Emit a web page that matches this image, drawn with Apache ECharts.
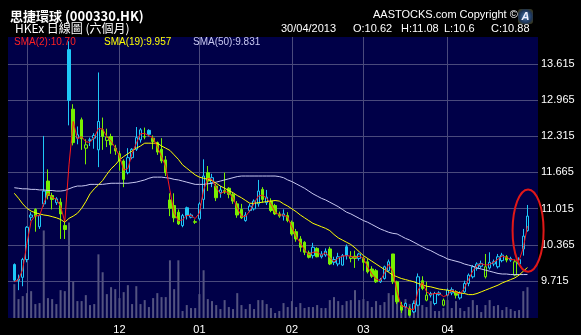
<!DOCTYPE html>
<html><head><meta charset="utf-8">
<script src="https://cdn.jsdelivr.net/npm/echarts@6/dist/echarts.min.js"></script>
<style>html,body{margin:0;padding:0;background:#000;}#c{width:581px;height:335px;}</style>
</head><body><div id="c"></div>
<script>
const dates = [
'2012/10/29','2012/10/30','2012/10/31',
'2012/11/01','2012/11/02','2012/11/05','2012/11/06','2012/11/07','2012/11/08','2012/11/09','2012/11/12','2012/11/13','2012/11/14','2012/11/15','2012/11/16','2012/11/19','2012/11/20','2012/11/21','2012/11/22','2012/11/23','2012/11/26','2012/11/27','2012/11/28','2012/11/29','2012/11/30',
'2012/12/03','2012/12/04','2012/12/05','2012/12/06','2012/12/07','2012/12/10','2012/12/11','2012/12/12','2012/12/13','2012/12/14','2012/12/17','2012/12/18','2012/12/19','2012/12/20','2012/12/21','2012/12/24','2012/12/27','2012/12/28','2012/12/31',
'2013/01/02','2013/01/03','2013/01/04','2013/01/07','2013/01/08','2013/01/09','2013/01/10','2013/01/11','2013/01/14','2013/01/15','2013/01/16','2013/01/17','2013/01/18','2013/01/21','2013/01/22','2013/01/23','2013/01/24','2013/01/25','2013/01/28','2013/01/29','2013/01/30','2013/01/31',
'2013/02/01','2013/02/04','2013/02/05','2013/02/06','2013/02/07','2013/02/08','2013/02/14','2013/02/15','2013/02/18','2013/02/19','2013/02/20','2013/02/21','2013/02/22','2013/02/25','2013/02/26','2013/02/27','2013/02/28',
'2013/03/01','2013/03/04','2013/03/05','2013/03/06','2013/03/07','2013/03/08','2013/03/11','2013/03/12','2013/03/13','2013/03/14','2013/03/15','2013/03/18','2013/03/19','2013/03/20','2013/03/21','2013/03/22','2013/03/25','2013/03/26','2013/03/27','2013/03/28',
'2013/04/02','2013/04/03','2013/04/05','2013/04/08','2013/04/09','2013/04/10','2013/04/11','2013/04/12','2013/04/15','2013/04/16','2013/04/17','2013/04/18','2013/04/19','2013/04/22','2013/04/23','2013/04/24','2013/04/25','2013/04/26','2013/04/29','2013/04/30'
];
const prevClose = 9.67;
const opens = [10.01,9.72,9.78,10.10,10.86,11.00,10.69,11.10,11.51,11.25,11.12,11.13,10.71,13.87,12.80,12.28,12.61,12.10,12.24,12.28,12.07,12.43,12.24,12.31,12.10,12.00,11.87,11.66,11.93,12.08,12.25,12.31,12.42,12.28,12.20,12.08,11.89,11.17,11.07,10.95,10.71,11.03,10.86,10.78,10.83,11.18,11.66,11.48,11.42,11.30,11.34,11.38,11.27,11.10,11.00,10.80,10.98,11.01,11.10,11.36,11.12,11.15,11.07,10.92,10.88,10.89,10.77,10.60,10.47,10.41,10.22,10.17,10.30,10.15,10.18,10.29,10.05,10.02,10.00,10.33,10.12,10.16,10.12,10.12,10.06,9.93,9.90,9.70,9.76,9.90,10.20,9.70,9.28,9.25,9.22,9.16,9.28,9.72,9.37,9.46,9.31,9.47,9.28,9.46,9.50,9.52,9.41,9.52,9.67,9.79,9.94,9.98,9.79,9.95,10.02,9.97,10.08,10.15,10.09,9.82,10.02,10.29,10.62];
const closes = [9.73,9.75,10.10,10.68,10.90,10.88,10.89,11.33,11.25,11.18,11.19,10.92,10.64,12.96,12.20,12.34,12.27,12.16,12.25,12.33,12.58,12.31,12.30,12.16,12.05,11.87,11.54,11.93,12.08,12.29,12.43,12.30,12.35,12.22,12.03,11.87,11.66,11.02,10.85,10.74,10.89,10.89,10.90,10.77,11.10,11.60,11.51,11.57,11.21,11.35,11.31,11.27,11.15,10.90,10.85,10.90,11.06,11.15,11.33,11.18,11.22,10.98,10.92,10.88,10.92,10.80,10.56,10.47,10.32,10.23,10.14,10.32,10.15,10.20,10.25,10.02,10.10,10.15,10.17,10.17,10.15,10.12,10.20,10.05,9.88,9.80,9.70,9.74,9.97,10.06,9.70,9.34,9.19,9.31,9.10,9.31,9.79,9.58,9.46,9.49,9.49,9.50,9.37,9.55,9.56,9.46,9.50,9.67,9.82,9.97,10.02,10.03,9.97,10.05,10.06,10.15,10.18,10.09,10.12,10.06,10.10,10.52,10.88];
const lows = [9.70,9.55,9.62,10.05,10.80,10.60,10.65,11.05,11.18,11.00,11.08,10.47,10.47,12.51,12.15,12.17,12.07,11.81,12.14,12.09,11.76,12.07,12.12,12.00,11.98,11.70,11.40,11.63,11.90,12.05,12.20,12.26,12.31,12.08,11.98,11.83,11.60,10.88,10.77,10.72,10.68,10.82,10.84,10.74,10.80,11.01,11.33,11.40,11.15,11.21,11.28,11.20,11.10,10.85,10.83,10.78,10.95,10.98,11.05,11.12,11.08,10.95,10.90,10.85,10.80,10.77,10.53,10.42,10.24,10.18,10.12,10.12,10.14,10.12,10.15,10.00,10.00,9.98,9.99,10.10,10.05,9.95,10.08,9.90,9.85,9.77,9.68,9.68,9.74,9.88,9.66,9.30,9.14,9.23,9.08,9.14,9.26,9.55,9.35,9.42,9.28,9.45,9.26,9.44,9.46,9.40,9.38,9.50,9.62,9.76,9.90,9.95,9.76,9.92,9.98,9.94,10.05,10.05,10.06,9.80,10.00,10.17,10.60];
const highs = [10.03,9.83,10.13,10.70,10.95,11.02,10.92,12.32,11.72,11.30,11.22,11.20,10.82,14.02,12.89,12.49,12.65,12.26,12.29,12.37,13.46,12.65,12.45,12.36,12.16,12.05,11.90,12.10,12.10,12.48,12.46,12.47,12.44,12.33,12.22,12.28,11.96,11.29,11.29,11.00,10.92,11.05,10.93,10.82,11.13,11.90,11.78,11.64,11.46,11.42,11.66,11.40,11.30,11.15,11.10,10.95,11.10,11.18,11.53,11.40,11.35,11.20,11.10,10.96,11.00,10.95,10.80,10.65,10.52,10.43,10.26,10.40,10.32,10.25,10.30,10.33,10.15,10.22,10.20,10.37,10.25,10.26,10.22,10.15,10.12,9.98,9.93,9.77,9.99,10.10,10.20,9.72,9.34,9.33,9.26,9.35,9.85,9.80,9.70,9.52,9.52,9.53,9.40,9.58,9.60,9.55,9.53,9.72,9.85,10.00,10.05,10.08,10.20,10.23,10.10,10.20,10.22,10.18,10.15,10.10,10.14,10.65,11.08];
const volumes = [34,19,22,25,27,14,15,88,20,19,14,28,27,96,37,17,17,23,13,14,64,46,24,31,29,20,26,33,14,32,14,18,11,20,25,21,21,58,29,58,7,13,10,10,24,48,19,17,13,9,18,11,9,25,13,9,14,9,18,18,14,10,5,7,15,11,17,11,15,10,11,11,13,10,10,18,21,17,13,17,18,28,18,19,17,11,17,13,16,25,23,18,13,19,14,18,23,13,11,17,7,7,10,18,10,17,10,7,11,18,13,6,13,18,12,13,8,11,9,7,8,27,31];
const sma2 = [9.70,9.74,9.925,10.39,10.79,10.89,10.885,11.11,11.29,11.215,11.185,11.055,10.78,11.80,12.58,12.27,12.305,12.215,12.205,12.29,12.455,12.445,12.305,12.23,12.105,11.96,11.705,11.735,12.005,12.185,12.36,12.365,12.325,12.285,12.125,11.95,11.765,11.34,10.935,10.795,10.815,10.89,10.895,10.835,10.935,11.35,11.555,11.54,11.39,11.28,11.33,11.29,11.21,11.025,10.875,10.875,10.98,11.105,11.24,11.255,11.20,11.10,10.95,10.90,10.90,10.86,10.68,10.515,10.395,10.275,10.185,10.23,10.235,10.175,10.225,10.135,10.06,10.125,10.16,10.17,10.16,10.135,10.16,10.125,9.965,9.84,9.75,9.72,9.855,10.015,9.88,9.52,9.265,9.25,9.205,9.205,9.55,9.685,9.52,9.475,9.49,9.495,9.435,9.46,9.555,9.51,9.48,9.585,9.745,9.895,9.995,10.025,10.00,10.01,10.055,10.105,10.165,10.135,10.105,10.09,10.08,10.31,10.70];
const sma19 = [11.29,11.20,11.10,11.02,10.97,10.94,10.92,10.90,10.89,10.87,10.85,10.82,10.77,10.84,10.88,10.93,11.02,11.14,11.28,11.37,11.44,11.52,11.63,11.73,11.80,11.89,11.95,12.00,12.05,12.10,12.14,12.19,12.19,12.19,12.19,12.14,12.10,12.06,11.98,11.90,11.80,11.74,11.68,11.62,11.58,11.56,11.54,11.52,11.47,11.42,11.38,11.34,11.30,11.25,11.21,11.16,11.11,11.11,11.12,11.13,11.14,11.15,11.16,11.15,11.10,11.06,11.01,10.96,10.90,10.85,10.80,10.75,10.72,10.69,10.66,10.62,10.55,10.49,10.45,10.41,10.37,10.31,10.24,10.17,10.12,10.07,10.02,9.97,9.92,9.87,9.82,9.79,9.76,9.74,9.72,9.70,9.67,9.65,9.62,9.61,9.59,9.57,9.56,9.55,9.53,9.52,9.50,9.49,9.47,9.47,9.49,9.52,9.55,9.58,9.61,9.64,9.68,9.71,9.74,9.77,9.82,9.89,9.957];
const sma50 = [11.39,11.38,11.37,11.37,11.36,11.36,11.35,11.35,11.34,11.34,11.33,11.33,11.34,11.37,11.40,11.42,11.42,11.43,11.45,11.45,11.45,11.45,11.46,11.47,11.47,11.47,11.47,11.47,11.48,11.49,11.51,11.53,11.56,11.58,11.58,11.58,11.57,11.56,11.54,11.53,11.51,11.49,11.47,11.45,11.45,11.45,11.46,11.47,11.49,11.51,11.53,11.55,11.57,11.59,11.60,11.60,11.60,11.60,11.60,11.60,11.60,11.60,11.60,11.59,11.57,11.53,11.50,11.46,11.42,11.38,11.33,11.28,11.24,11.20,11.17,11.13,11.09,11.05,11.00,10.95,10.92,10.88,10.84,10.80,10.77,10.73,10.69,10.65,10.62,10.59,10.57,10.56,10.52,10.48,10.45,10.41,10.37,10.33,10.29,10.26,10.22,10.18,10.15,10.11,10.09,10.07,10.05,10.02,10.00,9.98,9.95,9.93,9.91,9.89,9.87,9.85,9.84,9.84,9.83,9.83,9.83,9.83,9.831];
const yTicks = [9.715,10.365,11.015,11.665,12.315,12.965,13.615];
const gridDates = ['2012/11/01','2012/12/03','2013/01/02','2013/02/01','2013/03/01','2013/04/02'];
const gridLabels = ['','12','01','02','03','04'];

const BG = '#000048', GRID = '#4a4a7c', UP = '#1ec8f8', DN = '#78f000', VOL = '#535380';
const cats = [''].concat(dates, ['', '']);
const pad = a => ['-'].concat(a, ['-', '-']);
const idxOf = d => dates.indexOf(d) + 1;
const gridIdx = gridDates.map(idxOf);
const labelIdx = gridIdx.filter((v, k) => gridLabels[k] !== '');
const labelMap = {}; gridIdx.forEach((v, k) => labelMap[v] = gridLabels[k]);

const candles = dates.map((d, i) => {
  const o = opens[i], c = closes[i], prev = i ? closes[i - 1] : prevClose;
  const col = c >= prev ? UP : DN;
  const fill = c >= o ? BG : col;
  return {value: [o, c, lows[i], highs[i]], itemStyle: {color: fill, color0: fill, borderColor: col, borderColor0: col, borderColorDoji: col, borderWidth: 1}};
});
const n = dates.length;
const F = '"Liberation Sans", Arial, sans-serif';

const chart = echarts.init(document.getElementById('c'), null, {renderer: 'canvas'});
const option = {
  backgroundColor: '#000',
  animation: false,
  grid: {left: 8, top: 37, width: 530, height: 282.5, show: true, backgroundColor: BG, borderWidth: 0},
  xAxis: [
    {type: 'category', data: cats, boundaryGap: true, show: false},
    {type: 'value', min: -0.5, max: cats.length - 0.5, position: 'bottom',
     axisLine: {show: false}, axisTick: {show: false, customValues: gridIdx},
     splitLine: {show: true, lineStyle: {color: GRID, width: 1}},
     axisLabel: {customValues: labelIdx, formatter: v => labelMap[v] || '', color: '#fff', fontSize: 11, margin: 6, fontFamily: F}}
  ],
  yAxis: [
    {type: 'value', min: 9.05, max: 14.097, position: 'right',
     axisLine: {show: false}, axisTick: {show: false, customValues: yTicks},
     splitLine: {show: true, lineStyle: {color: GRID, width: 1}},
     axisLabel: {customValues: yTicks, formatter: v => v.toFixed(3), color: '#fff', fontSize: 11, margin: 3, fontFamily: F}},
    {type: 'value', min: 0, max: 282.5, show: false}
  ],
  series: [
    {type: 'bar', xAxisIndex: 0, yAxisIndex: 1, data: pad(volumes), barWidth: 2, itemStyle: {color: VOL}, z: 1, silent: true},
    {type: 'candlestick', xAxisIndex: 0, yAxisIndex: 0, data: pad(candles), barWidth: 3, z: 3},
    {type: 'line', xAxisIndex: 0, yAxisIndex: 0, data: pad(sma50), symbol: 'none', lineStyle: {color: '#c8c8f0', width: 1}, z: 4},
    {type: 'line', xAxisIndex: 0, yAxisIndex: 0, data: pad(sma19), symbol: 'none', lineStyle: {color: '#ffff00', width: 1}, z: 5},
    {type: 'line', xAxisIndex: 0, yAxisIndex: 0, data: pad(sma2), symbol: 'none', lineStyle: {color: '#ff1a1a', width: 1}, z: 6}
  ],
  graphic: [
    {type: 'text', id: 't1', x: 10, y: 16, style: {text: '思捷環球 (000330.HK)', fill: '#fff', font: 'bold 13px "Noto Sans CJK TC"', verticalAlign: 'middle'}},
    {type: 'text', id: 't2', x: 15, y: 28, style: {text: 'HKEx 日線圖 (六個月)', fill: '#fff', font: '12px "Noto Sans CJK TC"', verticalAlign: 'middle'}},
    {type: 'text', id: 't3', x: 373, y: 15, style: {text: 'AASTOCKS.com Copyright ©', fill: '#fff', font: '11px ' + F, verticalAlign: 'middle'}},
    {type: 'text', id: 'd0', x: 281, y: 29, style: {text: '30/04/2013', fill: '#fff', font: '11px ' + F, verticalAlign: 'middle'}},
    {type: 'text', id: 'd1', x: 353, y: 29, style: {text: 'O:' + opens[n-1], fill: '#fff', font: '11px ' + F, verticalAlign: 'middle'}},
    {type: 'text', id: 'd2', x: 401, y: 29, style: {text: 'H:' + highs[n-1], fill: '#fff', font: '11px ' + F, verticalAlign: 'middle'}},
    {type: 'text', id: 'd3', x: 444, y: 29, style: {text: 'L:' + lows[n-1], fill: '#fff', font: '11px ' + F, verticalAlign: 'middle'}},
    {type: 'text', id: 'd4', x: 491, y: 29, style: {text: 'C:' + closes[n-1], fill: '#fff', font: '11px ' + F, verticalAlign: 'middle'}},
    {type: 'text', id: 'l1', x: 14, y: 42, z: 50, style: {text: 'SMA(2):' + sma2[n-1].toFixed(2), fill: '#ff2020', font: '10px ' + F, verticalAlign: 'middle'}},
    {type: 'text', id: 'l2', x: 104, y: 42, z: 50, style: {text: 'SMA(19):' + sma19[n-1].toFixed(3), fill: '#ffff00', font: '10px ' + F, verticalAlign: 'middle'}},
    {type: 'text', id: 'l3', x: 193, y: 42, z: 50, style: {text: 'SMA(50):' + sma50[n-1].toFixed(3), fill: '#c8c8f0', font: '10px ' + F, verticalAlign: 'middle'}},
    {type: 'rect', id: 'lg', shape: {x: 518, y: 9, width: 15, height: 15, r: 3}, style: {fill: {type: 'radial', x: 0.5, y: 0.5, r: 0.6, colorStops: [{offset: 0, color: '#4a7ab0'}, {offset: 0.7, color: '#1c3458'}, {offset: 1, color: '#3a3a20'}]}}},
    {type: 'text', id: 'lga', x: 525.5, y: 17, style: {text: 'A', fill: '#f0f0ff', font: 'bold italic 11px ' + F, align: 'center', verticalAlign: 'middle'}}
  ]
};
chart.setOption(option);
const li = n; // padded index of the last candle
const c0 = chart.convertToPixel({xAxisIndex: 0, yAxisIndex: 0}, [li, 11.36]);
const c1 = chart.convertToPixel({xAxisIndex: 0, yAxisIndex: 0}, [li, 9.88]);
chart.setOption({graphic: [{type: 'ellipse', id: 'ring', z: 60,
  shape: {cx: c0[0] + 0.6, cy: (c0[1] + c1[1]) / 2, rx: 15.5, ry: (c1[1] - c0[1]) / 2},
  style: {fill: 'none', stroke: '#e01818', lineWidth: 2}}]});
</script></body></html>
